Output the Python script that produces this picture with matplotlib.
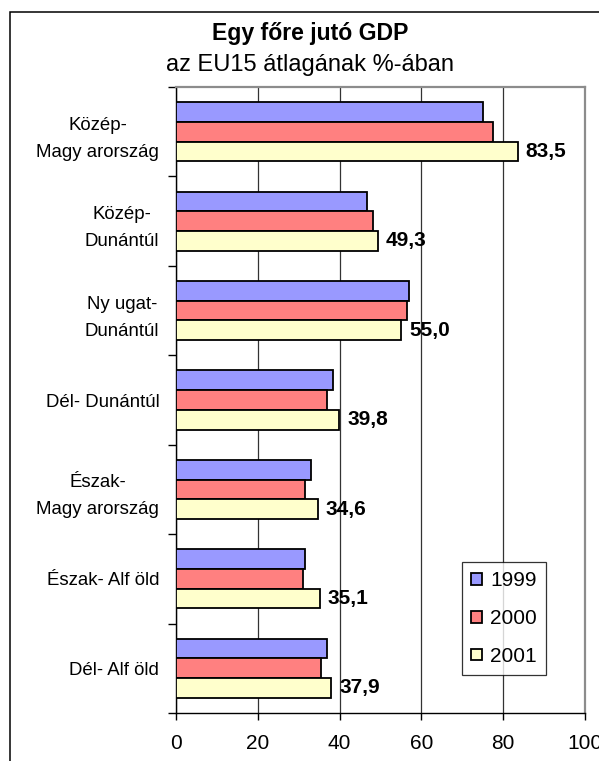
import matplotlib
matplotlib.use("Agg")
import matplotlib.pyplot as plt
from matplotlib.patches import Rectangle
import numpy as np

plt.rcParams['font.family'] = ['Liberation Sans', 'DejaVu Sans']

categories = ["Közép-\nMagy arország", "Közép-\nDunántúl", "Ny ugat-\nDunántúl",
              "Dél- Dunántúl", "Észak-\nMagy arország", "Észak- Alf öld", "Dél- Alf öld"]
series_names = ["1999", "2000", "2001"]
v1999 = [75.0, 46.7, 56.9, 38.3, 33.1, 31.6, 36.9]
v2000 = [77.4, 48.2, 56.4, 36.9, 31.5, 31.0, 35.4]
v2001 = [83.5, 49.3, 55.0, 39.8, 34.6, 35.1, 37.9]
colors = ["#9999FF", "#FF8080", "#FFFFCC"]
xticks = [0, 20, 40, 60, 80, 100]

W, H = 599, 761
fig = plt.figure(figsize=(W / 100, H / 100), dpi=100)

# outer chart frame
fig.add_artist(Rectangle((9.5 / W, -0.1), 1.2, 1 - 11.7 / H + 0.1,
                         transform=fig.transFigure, fill=False,
                         edgecolor="black", linewidth=1.1))

ax = fig.add_axes([176 / W, 1 - 713 / H, (585 - 176) / W, (713 - 87) / H])

y = np.arange(len(categories))
bh = 0.22
handles = []
for i, (vals, col, name) in enumerate(zip([v1999, v2000, v2001], colors, series_names)):
    b = ax.barh(y + (i - 1) * bh, vals, height=bh, color=col, edgecolor="black",
                linewidth=1.3, label=name, zorder=3)
    handles.append(b)

for yi, v in zip(y, v2001):
    ax.annotate(f"{v:.1f}".replace(".", ","), xy=(v, yi + bh), xytext=(6, 0),
                textcoords="offset points", va="center", ha="left",
                fontsize=15, fontweight="bold", zorder=4)

ax.set_xlim(0, 100)
ax.set_ylim(len(categories) - 0.5, -0.5)
ax.set_xticks(xticks)
ax.set_xticklabels([str(t) for t in xticks], fontsize=15)
ax.tick_params(axis="x", direction="out", length=5, width=1, pad=10)

ax.set_yticks(np.arange(-0.5, len(categories)), [""] * (len(categories) + 1))
ax.tick_params(axis="y", which="major", direction="out", length=6, width=1)
ax.set_yticks(y, categories, minor=True)
ax.tick_params(axis="y", which="minor", length=0, pad=12, labelsize=13.4)
for lab in ax.get_yticklabels(minor=True):
    lab.set_multialignment("center")
    lab.set_linespacing(1.77)

ax.grid(axis="x", color="#333333", linewidth=0.9, zorder=0)
ax.set_axisbelow(True)
for s in ["left", "bottom"]:
    ax.spines[s].set_color("black")
    ax.spines[s].set_linewidth(1.0)
for s in ["top", "right"]:
    ax.spines[s].set_color("#8c8c8c")
    ax.spines[s].set_linewidth(1.6)

leg = ax.legend(handles=handles, loc="upper left",
                bbox_to_anchor=(462 / W, 1 - 562 / H), bbox_transform=fig.transFigure,
                fontsize=15, frameon=True, fancybox=False, shadow=False,
                handlelength=0.5, handleheight=0.5, handletextpad=0.4,
                labelspacing=0.9, borderpad=0.45, borderaxespad=0)
leg.get_frame().set_edgecolor("black")
leg.get_frame().set_linewidth(0.9)

fig.text(310 / W, 1 - 33.3 / H, "Egy főre jutó GDP", ha="center", va="center",
         fontsize=16.6, fontweight="bold")
fig.text(310 / W, 1 - 64.7 / H, "az EU15 átlagának %-ában", ha="center", va="center",
         fontsize=17)

fig.savefig("out.png", dpi=100)
